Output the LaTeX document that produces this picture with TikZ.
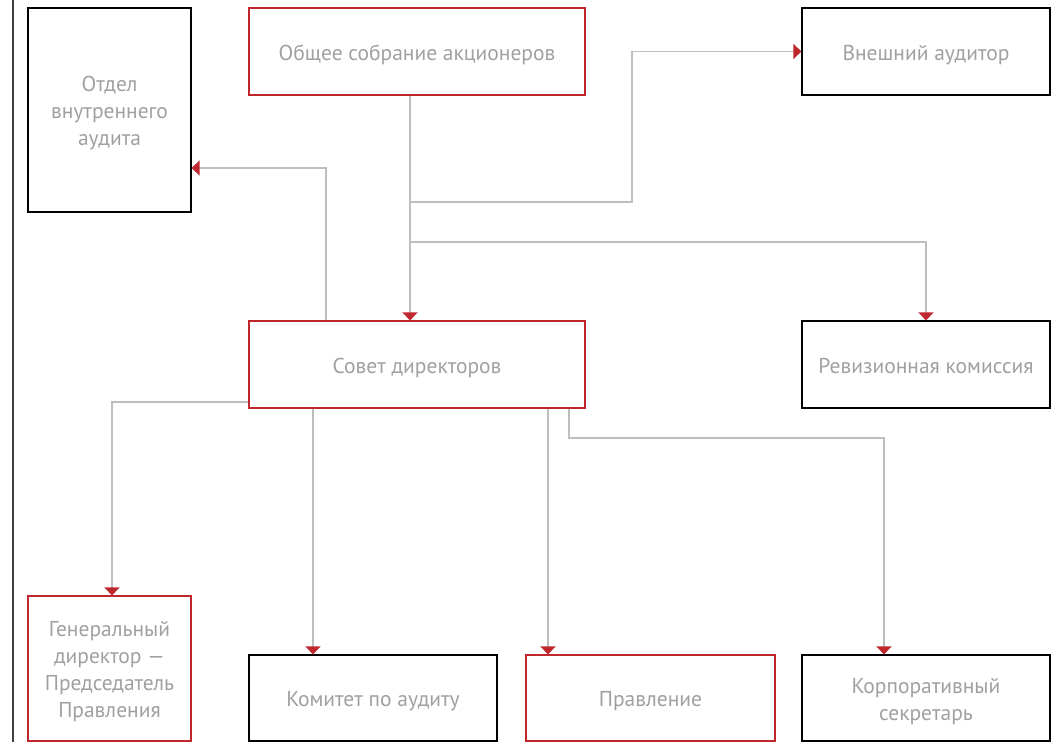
\documentclass[tikz,border=0pt]{standalone}
\usepackage{fontspec}
\setmainfont{PT Sans}
\usetikzlibrary{arrows.meta}
\definecolor{boxred}{HTML}{C0272D}
\definecolor{linegray}{HTML}{BEBEBE}
\definecolor{textgray}{HTML}{A0A0A0}
% text sits a little low in its box
\newcommand{\boxtext}[1]{\raisebox{-3.5pt}[\height][\depth]{\begin{tabular}{@{}c@{}}#1\end{tabular}}}
\tikzset{
  unit/.style={draw=black, line width=1.2pt, inner sep=2pt,
    text=textgray, font=\fontsize{21.5}{27}\selectfont},
  redunit/.style={unit, draw=boxred},
  link/.style={draw=linegray, line width=1.3pt,
    -{Triangle[width=15pt,length=8pt,color=boxred]}}
}

\begin{document}
\begin{tikzpicture}[x=1pt, y=-1pt]
  \useasboundingbox (0,0) rectangle (1062,742);
  \draw[line width=1.5pt, black!75] (13,0) -- (13,742);
  % top row
	\node[unit, minimum width=163, minimum height=204] (otdel) at (109.5,110)
		{\boxtext{Отдел\\внутреннего\\аудита}};
	\node[redunit, minimum width=336, minimum height=87] (gsa) at (417,51.5)
		{\boxtext{Общее собрание акционеров}};
	\node[unit, minimum width=248, minimum height=87] (vneshn) at (926,51.5)
		{\boxtext{Внешний аудитор}};
  % middle row
	\node[redunit, minimum width=336, minimum height=87] (sovet) at (417,364.5)
		{\boxtext{Совет директоров}};
	\node[unit, minimum width=248, minimum height=87] (revk) at (926,364.5)
		{\boxtext{Ревизионная комиссия}};
  % bottom row
	\node[redunit, minimum width=163, minimum height=145] (gendir) at (109.5,668.5)
		{\boxtext{Генеральный\\директор —\\Председатель\\Правления}};
	\node[unit, minimum width=248, minimum height=86] (komitet) at (373,698)
		{\boxtext{Комитет по аудиту}};
	\node[redunit, minimum width=249, minimum height=86] (pravl) at (650.5,698)
		{\boxtext{Правление}};
	\node[unit, minimum width=248, minimum height=86] (korp) at (926,698)
		{\boxtext{Корпоративный\\секретарь}};
  % turning points
  \coordinate (trunk) at (410,0);
  \coordinate (b1) at (410,202);
  \coordinate (b2) at (410,242);
  \coordinate (p1) at (326,168);
  \coordinate (p2) at (112,402);
  \coordinate (p3) at (313,0);
  \coordinate (p4) at (548,0);
  \coordinate (p5) at (569,438);
  \coordinate (p6) at (884,0);
  % connectors
  \draw[link] (gsa.south -| trunk) -- (sovet.north -| trunk);
  \draw[link] (b1) -- (b1 -| 632,0) |- (vneshn.west);
  \draw[link] (b2) -| (revk.north);
  \draw[link] (sovet.north -| p1) |- (otdel.east |- p1);
  \draw[link] (sovet.west |- p2) -| (gendir.north -| p2);
  \draw[link] (sovet.south -| p3) -- (komitet.north -| p3);
  \draw[link] (sovet.south -| p4) -- (pravl.north -| p4);
  \draw[link] (sovet.south -| p5) -- (p5) -| (korp.north -| p6);
\end{tikzpicture}
\end{document}
